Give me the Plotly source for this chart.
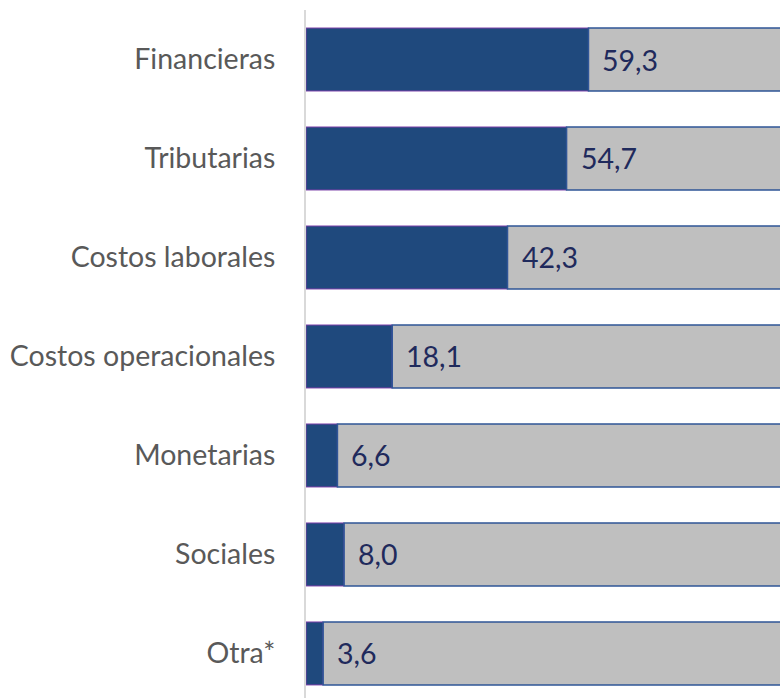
import plotly.graph_objects as go

categories = ["Financieras", "Tributarias", "Costos laborales", "Costos operacionales",
              "Monetarias", "Sociales", "Otra*"]
values = [59.3, 54.7, 42.3, 18.1, 6.6, 8.0, 3.6]
total = 100
value_labels = ["59,3", "54,7", "42,3", "18,1", "6,6", "8,0", "3,6"]

rest = [total - v for v in values]
pos = list(range(len(categories)))

FONT = "Lato, Liberation Sans, sans-serif"

fig = go.Figure()
fig.add_trace(go.Bar(
    y=pos, x=values, orientation="h", width=0.636,
    marker=dict(color="#1F497D", line=dict(color="#7A3FA8", width=1)),
    hoverinfo="skip", showlegend=False,
))
fig.add_trace(go.Bar(
    y=pos, x=rest, base=values, orientation="h", width=0.636,
    marker=dict(color="#BFBFBF", line=dict(color="#2F5597", width=1.5)),
    hoverinfo="skip", showlegend=False,
))

for p, v, t in zip(pos, values, value_labels):
    fig.add_annotation(x=v, y=p, text=t, xanchor="left", yanchor="middle",
                       xshift=12, showarrow=False,
                       font=dict(family=FONT, size=28.5, color="#1F2A5C"))

fig.update_layout(
    width=780, height=698,
    margin=dict(l=306, r=0, t=10, b=0),
    paper_bgcolor="white", plot_bgcolor="white",
    barmode="overlay",
    xaxis=dict(range=[0, 99.5], visible=False, fixedrange=True),
    yaxis=dict(range=[6.45, -0.5], tickvals=pos, ticktext=categories,
               showline=True, linecolor="#D9D9D9", linewidth=2,
               showgrid=False, zeroline=False, ticks="",
               ticklabelstandoff=23, fixedrange=True,
               tickfont=dict(family=FONT, size=28.5, color="#595959")),
)

fig.write_html(
    "out.html",
    config={"displayModeBar": False},
    post_script=("document.documentElement.style.overflow='hidden';"
                 "document.body.style.margin='0';"
                 "document.body.style.overflow='hidden';"),
)
